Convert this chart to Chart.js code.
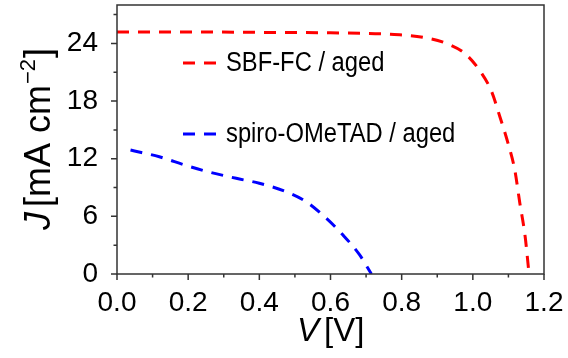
<!DOCTYPE html>
<html>
<head>
<meta charset="utf-8">
<script src="https://cdn.jsdelivr.net/npm/chart.js@4.4.0/dist/chart.umd.min.js"></script>
<style>
  html, body { margin: 0; padding: 0; background: #fff; }
  #wrap { width: 568px; height: 358px; }
</style>
</head>
<body>
<div id="wrap"><canvas id="jvChart" width="568" height="358"></canvas></div>
<script>
// J-V curves
const voltsSBF = [0, 0.2, 0.4, 0.6, 0.757, 0.86, 0.926, 0.977, 1.019, 1.053, 1.076, 1.099, 1.118, 1.132, 1.147, 1.158];
const currentSBF = [25.2, 25.2, 25.15, 25.1, 24.97, 24.63, 24.0, 22.97, 21.2, 18.97, 16.37, 13.6, 10.8, 7.4, 3.9, 0];

const voltsSpiro = [0.038, 0.119, 0.194, 0.26, 0.335, 0.40, 0.476, 0.532, 0.588, 0.635, 0.682, 0.715];
const currentSpiro = [12.9, 12.2, 11.3, 10.6, 9.96, 9.44, 8.56, 7.52, 5.8, 4.06, 1.98, 0];

const seriesLabels = ['SBF-FC / aged', 'spiro-OMeTAD / aged'];
const seriesColors = ['#ff0000', '#0000ff'];

const xTicks = [0, 0.2, 0.4, 0.6, 0.8, 1.0, 1.2];
const xMinor = [0.1, 0.3, 0.5, 0.7, 0.9, 1.1];
const yTicks = [0, 6, 12, 18, 24];
const yMinor = [3, 9, 15, 21, 27];

const FONT = '"Liberation Sans", Arial, sans-serif';
const DASH = [12, 9];

function toPoints(xs, ys) {
    return xs.map((x, i) => ({ x: x, y: ys[i] }));
}

// frame, tick marks, axis titles and legend
const decorations = {
    id: 'decorations',
    afterDraw(chart) {
        const ctx = chart.ctx;
        const area = chart.chartArea;
        const xs = chart.scales.x;
        const ys = chart.scales.y;
        ctx.save();

        // box
        ctx.strokeStyle = '#333';
        ctx.lineWidth = 1.5;
        ctx.strokeRect(area.left, area.top, area.right - area.left, area.bottom - area.top);

        // ticks (outward)
        ctx.beginPath();
        xTicks.forEach(v => { const p = xs.getPixelForValue(v); ctx.moveTo(p, area.bottom); ctx.lineTo(p, area.bottom + 6); });
        xMinor.forEach(v => { const p = xs.getPixelForValue(v); ctx.moveTo(p, area.bottom); ctx.lineTo(p, area.bottom + 3.5); });
        yTicks.forEach(v => { const p = ys.getPixelForValue(v); ctx.moveTo(area.left, p); ctx.lineTo(area.left - 6, p); });
        yMinor.forEach(v => { const p = ys.getPixelForValue(v); ctx.moveTo(area.left, p); ctx.lineTo(area.left - 3.5, p); });
        ctx.stroke();

        ctx.fillStyle = '#000';
        ctx.textBaseline = 'alphabetic';

        // x title: V [V]
        ctx.textAlign = 'left';
        let x = 297;
        ctx.font = 'italic 33px ' + FONT;
        ctx.fillText('V', x, 341);
        x += ctx.measureText('V').width + 5;
        ctx.font = '33px ' + FONT;
        ctx.fillText('[V]', x, 341);

        // y title: J [mA cm-2], rotated
        ctx.save();
        ctx.translate(50, 230);
        ctx.rotate(-Math.PI / 2);
        let t = 0;
        ctx.font = 'italic 36px ' + FONT;
        ctx.fillText('J', t, 0);
        t += ctx.measureText('J').width + 5;
        ctx.font = '36px ' + FONT;
        ctx.fillText('[mA cm', t, 0);
        t += ctx.measureText('[mA cm').width + 1;
        ctx.font = '22px ' + FONT;
        ctx.fillText('\u22122', t, -15);
        t += ctx.measureText('\u22122').width + 1;
        ctx.font = '36px ' + FONT;
        ctx.fillText(']', t, 0);
        ctx.restore();

        // legend
        const rows = [63, 134];
        rows.forEach((ly, i) => {
            ctx.save();
            ctx.strokeStyle = seriesColors[i];
            ctx.lineWidth = 3;
            ctx.setLineDash(DASH);
            ctx.beginPath();
            ctx.moveTo(183, ly);
            ctx.lineTo(216, ly);
            ctx.stroke();
            ctx.restore();
            ctx.save();
            ctx.font = '27px ' + FONT;
            ctx.fillStyle = '#000';
            ctx.translate(226, ly + 8);
            ctx.scale(0.88, 1);
            ctx.fillText(seriesLabels[i], 0, 0);
            ctx.restore();
        });

        ctx.restore();
    }
};

const jv = new Chart(document.getElementById('jvChart'), {
    type: 'line',
    data: {
        datasets: [
            {
                label: seriesLabels[0],
                data: toPoints(voltsSBF, currentSBF),
                borderColor: seriesColors[0],
                borderWidth: 3,
                borderDash: DASH,
                pointRadius: 0,
                cubicInterpolationMode: 'monotone',
                fill: false
            },
            {
                label: seriesLabels[1],
                data: toPoints(voltsSpiro, currentSpiro),
                borderColor: seriesColors[1],
                borderWidth: 3,
                borderDash: DASH,
                pointRadius: 0,
                cubicInterpolationMode: 'monotone',
                fill: false
            }
        ]
    },
    options: {
        responsive: false,
        devicePixelRatio: 1,
        animation: false,
        layout: { padding: { top: 5, right: 24, left: 0, bottom: 0 } },
        plugins: {
            legend: { display: false },
            tooltip: { enabled: false }
        },
        scales: {
            x: {
                type: 'linear',
                min: 0,
                max: 1.2,
                grid: { display: false },
                border: { display: false },
                afterBuildTicks: s => { s.ticks = xTicks.map(v => ({ value: v })); },
                afterFit: s => { s.height = 84; s.paddingLeft = 0; s.paddingRight = 0; },
                ticks: {
                    padding: 4,
                    color: '#000',
                    font: { family: FONT, size: 28 },
                    maxRotation: 0,
                    callback: v => Number(v).toFixed(1)
                }
            },
            y: {
                type: 'linear',
                min: 0,
                max: 28,
                grid: { display: false },
                border: { display: false },
                afterBuildTicks: s => { s.ticks = yTicks.map(v => ({ value: v })); },
                afterFit: s => { s.width = 117; s.paddingTop = 0; s.paddingBottom = 0; },
                ticks: {
                    padding: 11,
                    color: '#000',
                    font: { family: FONT, size: 28 },
                    callback: v => String(v)
                }
            }
        }
    },
    plugins: [decorations]
});
</script>
</body>
</html>
